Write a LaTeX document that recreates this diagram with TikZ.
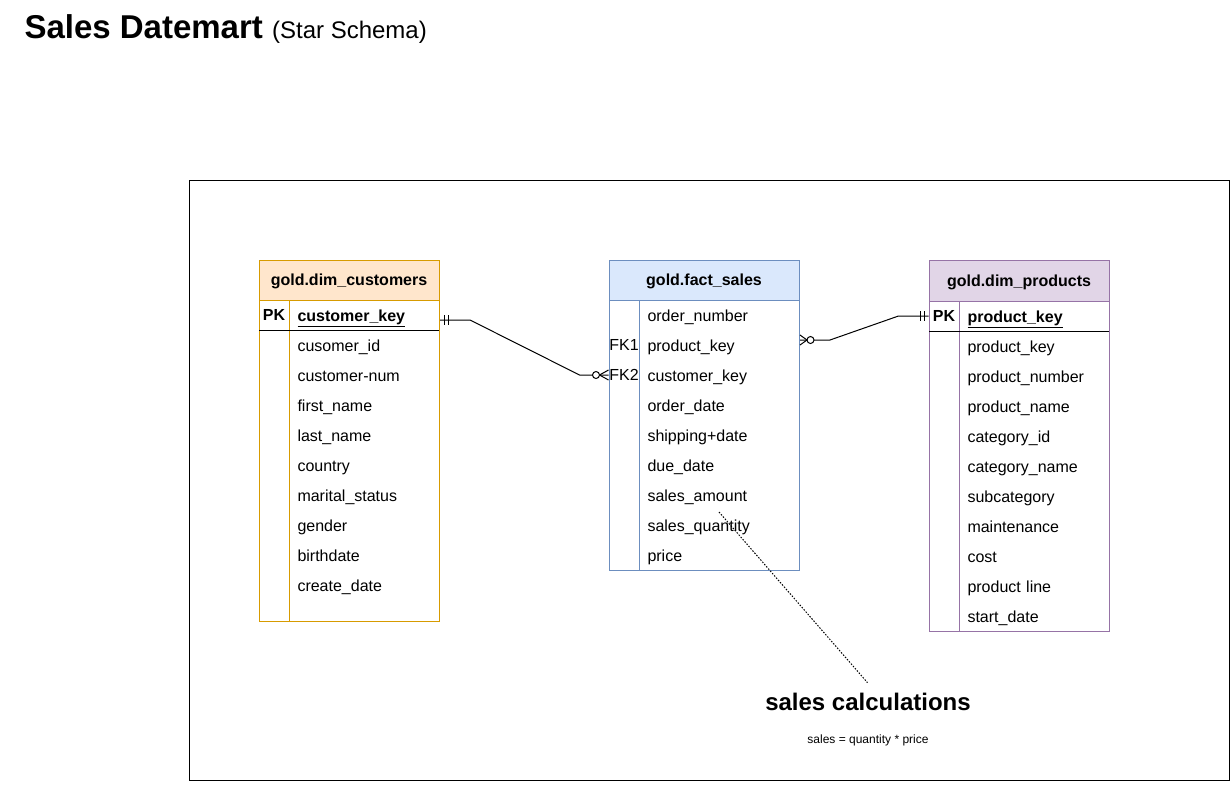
\documentclass[tikz,border=0pt]{standalone}
\usepackage{fontspec}
\setmainfont{Liberation Sans}
\usetikzlibrary{calc}

\definecolor{custfill}{HTML}{FFE6CC}
\definecolor{custline}{HTML}{D79B00}
\definecolor{factfill}{HTML}{DAE8FC}
\definecolor{factline}{HTML}{6C8EBF}
\definecolor{prodfill}{HTML}{E1D5E7}
\definecolor{prodline}{HTML}{9673A6}

\begin{document}
\begin{tikzpicture}[x=1pt,y=-1pt,line width=1pt,
  head/.style={minimum width=180pt,minimum height=40pt,inner sep=0pt,text height=11.5pt,text depth=0pt,font=\fontsize{16}{19}\selectfont\bfseries},
  field/.style={anchor=west,inner xsep=8pt,inner ysep=0pt,minimum height=30pt,text width=134pt,text height=12pt,text depth=0pt,font=\fontsize{16}{19}\selectfont},
  key/.style={minimum width=30pt,minimum height=30pt,inner sep=0pt,font=\fontsize{16}{19}\selectfont},
  keyrow/.style={font=\fontsize{16}{19}\selectfont\bfseries}]
\useasboundingbox (0,0) rectangle (1231,804);

\node[anchor=base west,inner sep=0pt] (title) at (24,38)
  {\fontsize{33}{40}\selectfont\bfseries Sales Datemart \fontsize{24}{29}\selectfont\mdseries(Star Schema)};
\draw (189,180) rectangle (1229,780);

% customers
\node[head,fill=custfill,draw=custline] (custhead) at (349,280) {gold.dim\_customers};
\draw[custline] (259,300) rectangle (439,621);
\draw[custline] (289,300) -- (289,621);
\draw (259,330) -- (439,330);
\node[key,keyrow] (cpkey) at (274,315) {PK};
\node[field,keyrow] (cpk) at (289,315) {\underline{customer\_key}};
\foreach \t [count=\i] in {cusomer\_id, customer-num, first\_name, last\_name, country,
    marital\_status, gender, birthdate, create\_date}
  \node[field] (c\i) at (289,315+30*\i) {\t};

% fact
\node[head,fill=factfill,draw=factline,minimum width=190pt] (facthead) at (704,280) {gold.fact\_sales};
\draw[factline] (609,300) rectangle (799,570);
\draw[factline] (639,300) -- (639,570);
\node[key] (fk1) at (624,345) {FK1};
\node[key] (fk2) at (624,375) {FK2};
\foreach \t [count=\i] in {order\_number, product\_key, customer\_key, order\_date,
    shipping+date, due\_date, sales\_amount, sales\_quantity, price}
  \node[field,text width=144pt] (f\i) at (639,285+30*\i) {\t};

% products
\node[head,fill=prodfill,draw=prodline,minimum height=41pt] (prodhead) at (1019,280.5) {gold.dim\_products};
\draw[prodline] (929,301) rectangle (1109,631);
\draw[prodline] (959,301) -- (959,631);
\draw (929,331) -- (1109,331);
\node[key,keyrow] (ppk) at (944,316) {PK};
\node[field,keyrow] (ppkey) at (959,316) {\underline{product\_key}};
\foreach \t [count=\i] in {product\_key, product\_number, product\_name, category\_id,
    category\_name, subcategory, maintenance, cost, product line, start\_date}
  \node[field] (p\i) at (959,316+30*\i) {\t};

% relations
\draw ($(cpk.east)+(0,5)$) -- ++(30,0) -- ($(fk2.west)+(-29,0)$) -- (fk2.west);
\foreach \d in {4,8}
  \draw ($(cpk.east)+(\d,0)$) -- +(0,10);
\draw ($(fk2.west)+(0,-5)$) -- ($(fk2.west)+(-9,0)$) -- ($(fk2.west)+(0,5)$);
\draw[fill=white] ($(fk2.west)+(-12.5,0)$) circle[radius=3.5pt];

\draw ($(f2.east)+(0,-5)$) -- ++(30,0) -- ($(ppk.west)+(-30,0)$) -- (ppk.west);
\draw ($(f2.east)+(0,-10)$) -- ($(f2.east)+(7,-5)$) -- (f2.east);
\draw[fill=white] ($(f2.east)+(10.5,-5)$) circle[radius=3.5pt];
\foreach \d in {4,8}
  \draw ($(ppk.west)+(-\d,-5)$) -- +(0,10);

% note
\node[font=\fontsize{24}{29}\selectfont\bfseries,anchor=base,inner sep=2pt] (calc) at (868,710) {sales calculations};
\node[font=\fontsize{12}{14}\selectfont,anchor=base] (calcnote) at (868,743) {sales = quantity * price};
\coordinate (memo) at (719,512);
\draw[dash pattern=on 1.5pt off 1.5pt,shorten >=10pt] (memo) -- ([xshift=6pt]calc.north);
\end{tikzpicture}
\end{document}
